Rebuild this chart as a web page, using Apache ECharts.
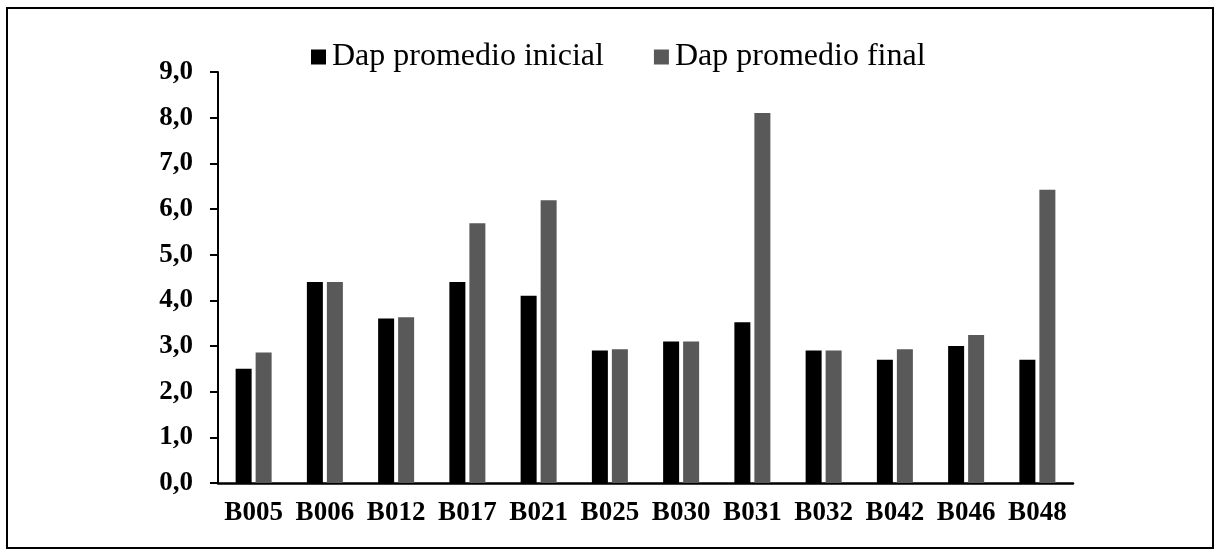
<!DOCTYPE html>
<html>
<head>
<meta charset="utf-8">
<script src="https://cdn.jsdelivr.net/npm/echarts@6/dist/echarts.min.js"></script>
<style>
  html, body { margin: 0; padding: 0; background: #ffffff; }
  #chart { width: 1220px; height: 556px; }
</style>
</head>
<body>
<div id="chart"></div>
<script>
// Plots
const categories = ['B005', 'B006', 'B012', 'B017', 'B021', 'B025', 'B030', 'B031', 'B032', 'B042', 'B046', 'B048'];
// Average DBH at start and end
const dapInicial = [2.5, 4.4, 3.6, 4.4, 4.1, 2.9, 3.1, 3.52, 2.9, 2.7, 3.0, 2.7];
const dapFinal   = [2.86, 4.4, 3.63, 5.69, 6.19, 2.93, 3.1, 8.1, 2.9, 2.93, 3.24, 6.42];
const seriesNames = ['Dap promedio inicial', 'Dap promedio final'];
const yTickLabels = ['0,0', '1,0', '2,0', '3,0', '4,0', '5,0', '6,0', '7,0', '8,0', '9,0'];

const serif = '"Liberation Serif", "Times New Roman", serif';

const chart = echarts.init(document.getElementById('chart'), null, { renderer: 'canvas' });

chart.setOption({
  animation: false,
  backgroundColor: '#ffffff',
  graphic: [{
    type: 'rect',
    shape: { x: 7, y: 8, width: 1206, height: 540 },
    style: { fill: 'none', stroke: '#000000', lineWidth: 2 },
    silent: true
  }],
  legend: {
    data: seriesNames,
    left: 306,
    top: 36,
    icon: 'rect',
    itemWidth: 15,
    itemHeight: 15,
    itemGap: 50,
    textStyle: { fontFamily: serif, fontSize: 32, color: '#000000', padding: [0, 0, 0, 1] }
  },
  grid: { left: 218, right: 147, top: 72, bottom: 73, containLabel: false },
  xAxis: {
    type: 'category',
    data: categories,
    axisLine: { lineStyle: { color: '#000000', width: 2.5 } },
    axisTick: { show: false },
    axisLabel: {
      interval: 0,
      margin: 17,
      color: '#000000',
      fontFamily: serif,
      fontWeight: 'bold',
      fontSize: 27
    }
  },
  yAxis: {
    type: 'value',
    min: 0,
    max: 9,
    interval: 1,
    splitLine: { show: false },
    axisLine: { show: true, lineStyle: { color: '#000000', width: 2 } },
    axisTick: { show: true, inside: false, length: 8, lineStyle: { color: '#000000', width: 2 } },
    axisLabel: {
      margin: 25,
      color: '#000000',
      fontFamily: serif,
      fontWeight: 'bold',
      fontSize: 27,
      formatter: function (v) { return yTickLabels[Math.round(v)]; }
    }
  },
  series: [
    {
      name: seriesNames[0],
      type: 'bar',
      data: dapInicial,
      barWidth: 16,
      barGap: '25%',
      itemStyle: { color: '#000000' }
    },
    {
      name: seriesNames[1],
      type: 'bar',
      data: dapFinal,
      barWidth: 16,
      barGap: '25%',
      itemStyle: { color: '#595959' }
    }
  ]
});
</script>
</body>
</html>
